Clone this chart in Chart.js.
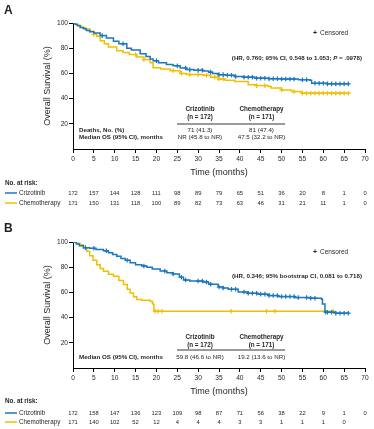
<!DOCTYPE html>
<html><head><meta charset="utf-8">
<script src="https://cdn.jsdelivr.net/npm/chart.js@4.4.1/dist/chart.umd.min.js"></script>
<style>
html,body{margin:0;padding:0;background:#fff;}
#wrap{position:relative;width:374px;height:429px;}
canvas{position:absolute;left:0;}
</style></head><body>
<div id="wrap">
<canvas id="cA" width="374" height="214" style="top:0"></canvas>
<canvas id="cB" width="374" height="215" style="top:214px"></canvas>
</div>
<script>
// ---------- DATA ----------
const riskTimes = [0,5,10,15,20,25,30,35,40,45,50,55,60,65,70];
const riskA_criz  = [172,157,144,128,111,98,89,79,65,51,36,20,8,1,0];
const riskA_chemo = [171,150,131,118,100,89,82,73,63,46,31,21,11,1,0];
const riskB_criz  = [172,158,147,136,123,109,98,87,71,56,38,22,9,1,0];
const riskB_chemo = [171,140,102,52,12,4,4,4,3,3,1,1,1,0];

// Panel A Kaplan-Meier steps (time in months, survival %)
const kmA_criz_t  = [0,0.5,1,1.7,2.5,3.2,4,5,6.5,8,9.7,11,12.9,14,16.1,17.5,18.5,19.2,20.5,22.4,24,25.7,27.2,29,31.2,32.5,33.5,34.8,36.5,38.8,41,43.6,47,50,54,56.8,57.2,61,66];
const kmA_criz_s  = [100,99,98,96.5,95.5,94,93,92,90,88,85.5,83.5,80,78.5,75.5,73.5,71.5,70,68.5,67,66,64.3,63,62.5,62,61,60,59,58.5,57.5,57,56.2,55.8,55.5,55,54.6,52.2,51.7,51.7];
const kmA_chemo_t = [0,0.5,1.2,2,3,4.1,5,5.7,6.5,7.5,8.5,10.5,12,13.5,15.3,17,18.5,19.2,21,23.3,25.7,27.2,31.2,33,34.8,36.5,38.8,42,44,46.8,47.5,50,52.4,54.8,66];
const kmA_chemo_s = [100,98.8,97.7,96.5,95.3,93.5,91,89.5,86,83.5,81,78,76.5,75,73,71,68.5,64.5,63.5,62.2,60,59.1,58.5,57,55.5,54.5,53.5,51,50.3,49.6,48.5,46.9,45.6,44.3,44.3];
const censA_criz  = [7,12,20,25,27,28,30,31,33,35,36,37,38,39,41,42,43,44,45,46,47,48,49,50,51,52,53,55,56,58,59,60,61,62,63,64,65,66];
const censA_chemo = [5,15,17,24,26,28,30,32,34,35,36,44,46,50,53,55,56,57,58,59,60,61,62,63,64,65,66];

// Panel B Kaplan-Meier steps
const kmB_criz_t  = [0,0.8,1.5,2.5,4,5.5,7.3,8.5,9.5,10.5,11.5,12.5,13.7,15,16.5,17.7,19,20.9,22.5,24,25.5,26.5,28,31.2,32.5,34.8,36,37.2,39.6,42,44.4,47,49.2,53.2,56.8,59.6,59.8,60.4,63,66];
const kmB_criz_s  = [100,98.5,97,95.5,95,94,93,91.5,90,88.7,87,85.5,83.5,82,81,80,78.5,77,75.5,74.6,72,69.8,69,68.3,66.5,64.3,63.5,62.5,60.3,59.3,58.6,57.5,56.7,55.9,55.4,54.6,50.7,44.3,43.5,43.5];
const kmB_chemo_t = [0,0.8,1.7,2.5,3.3,4,4.8,5.7,6.5,7.3,8.5,9.7,11,12.1,13,13.7,14.5,15.3,16.5,18.5,19,19.2,19.4,62.6];
const kmB_chemo_s = [100,99,97.8,95.5,92.6,89,85.5,82,79,76.8,74.5,72.8,69.5,66.2,62.5,59.6,56.5,54.3,53.8,53,51.5,50.3,45,45];
const censB_criz  = [3,5,8,13,17,22,24,26,27,30,31,32,33,35,36,38,39,41,42,43,44,45,46,47,48,49,50,51,52,53,54,56,57,58,60.6,61,62,63,64,65,66];
const censB_chemo = [19.7,20.4,21.3,37.9,46.4,48.4,62.4];

// ---------- DRAWING ----------
const FAM = '"Liberation Sans", Arial, Helvetica, sans-serif';
const BLUE = '#1b77c0';
const GOLD = '#f2bf00';
const INK = '#231f20';

function pts(t, s){ return t.map((x,i)=>({x:x, y:s[i]})); }
function survAt(t, s, time){ let v = s[0]; for (let i=0;i<t.length;i++){ if (t[i] <= time) v = s[i]; } return v; }
function censPts(c, t, s){ return c.map(x=>({x:x, y:survAt(t,s,x)})); }

function drawRich(ctx, parts, rightX, y, size){
  let w = 0;
  parts.forEach(p=>{ ctx.font = (p.it?'italic ':'') + 'bold ' + size + 'px ' + FAM; p.w = ctx.measureText(p.t).width; w += p.w; });
  let x = rightX - w;
  ctx.textAlign = 'left';
  parts.forEach(p=>{ ctx.font = (p.it?'italic ':'') + 'bold ' + size + 'px ' + FAM; ctx.fillText(p.t, x, y); x += p.w; });
}

const textPlugin = {
  id: 'panelText',
  afterDraw(chart, args, o){
    const ctx = chart.ctx; const xs = chart.scales.x;
    ctx.save();
    ctx.fillStyle = INK; ctx.textBaseline = 'middle';
    // panel letter
    ctx.font = 'bold 12px ' + FAM; ctx.textAlign = 'left';
    ctx.fillText(o.letter, 4, o.letterY);
    // censored key
    ctx.font = 'bold 7px ' + FAM; ctx.textAlign = 'center';
    ctx.fillText('+', 315, o.censY);
    ctx.font = '6.5px ' + FAM; ctx.textAlign = 'left';
    ctx.fillText('Censored', 320, o.censY);
    // HR text
    drawRich(ctx, o.hr, 362, o.hrY, 6.2);
    // stats table
    ctx.font = 'bold 6.3px ' + FAM; ctx.textAlign = 'center';
    ctx.fillText('Crizotinib', 200, o.headY);
    ctx.fillText('(n = 172)', 200, o.headY + 8);
    ctx.fillText('Chemotherapy', 261.5, o.headY);
    ctx.fillText('(n = 171)', 261.5, o.headY + 8);
    ctx.strokeStyle = INK; ctx.lineWidth = 0.9;
    ctx.beginPath(); ctx.moveTo(177, o.ruleY); ctx.lineTo(285, o.ruleY); ctx.stroke();
    o.rows.forEach((r, i)=>{
      const y = o.rowY + i*7;
      ctx.font = 'bold 6.2px ' + FAM; ctx.textAlign = 'left';
      ctx.fillText(r[0], 79, y);
      ctx.font = '6.2px ' + FAM; ctx.textAlign = 'center';
      ctx.fillText(r[1], 200, y);
      ctx.fillText(r[2], 261.5, y);
    });
    // number at risk
    ctx.font = 'bold 6.3px ' + FAM; ctx.textAlign = 'left';
    ctx.fillText('No. at risk:', 5, o.riskY[0]);
    const rows = [['Crizotinib', BLUE, o.risk[0]], ['Chemotherapy', GOLD, o.risk[1]]];
    rows.forEach((r, i)=>{
      const y = o.riskY[i+1];
      ctx.strokeStyle = r[1]; ctx.lineWidth = 1.5;
      ctx.beginPath(); ctx.moveTo(5, y); ctx.lineTo(17, y); ctx.stroke();
      ctx.font = '6.3px ' + FAM; ctx.textAlign = 'left';
      ctx.fillText(r[0], 19, y);
      ctx.font = '5.8px ' + FAM; ctx.textAlign = 'center';
      r[2].forEach((v, j)=>{ ctx.fillText(String(v), xs.getPixelForValue(riskTimes[j]), y); });
    });
    ctx.restore();
  }
};

function makeChart(id, km, pad, txt){
  const lineDs = (data, col) => ({data, borderColor: col, borderWidth: 1.5, stepped: true, pointRadius: 0, fill: false, tension: 0});
  const censDs = (data, col) => ({data, showLine: false, borderColor: col, backgroundColor: col, pointStyle: 'cross', pointRadius: 2.3, pointBorderWidth: 1.2});
  const tickFont = {size: 6.6, family: FAM};
  const grid = {drawOnChartArea: false, drawTicks: true, tickLength: 4, color: '#000', tickColor: '#000', tickWidth: 1};
  return new Chart(document.getElementById(id), {
    type: 'line',
    data: { datasets: [
      lineDs(pts(km.ct, km.cs), BLUE),
      censDs(censPts(km.cc, km.ct, km.cs), BLUE),
      lineDs(pts(km.ht, km.hs), GOLD),
      censDs(censPts(km.hc, km.ht, km.hs), GOLD)
    ]},
    options: {
      responsive: false, animation: false, devicePixelRatio: 1,
      layout: {padding: pad},
      plugins: {legend: {display: false}, tooltip: {enabled: false}, panelText: txt},
      scales: {
        x: {type: 'linear', min: 0, max: 70,
            ticks: {stepSize: 5, font: tickFont, color: INK, padding: 2, maxRotation: 0, autoSkip: false},
            grid: grid, border: {display: true, color: '#000', width: 1},
            title: {display: true, text: 'Time (months)', font: {size: 9, family: FAM}, color: INK, padding: 0},
            afterFit: s => { s.height = 29; }},
        y: {min: 0, max: 100,
            ticks: {stepSize: 20, font: tickFont, color: INK, padding: 1, callback: v => v === 0 ? null : v},
            grid: grid, border: {display: true, color: '#000', width: 1},
            title: {display: true, text: 'Overall Survival (%)', font: {size: 9, family: FAM}, color: INK, padding: {top: 4, bottom: 0}},
            afterFit: s => { s.width = 35; }}
      }
    },
    plugins: [textPlugin]
  });
}

makeChart('cA',
  {ct: kmA_criz_t, cs: kmA_criz_s, cc: censA_criz, ht: kmA_chemo_t, hs: kmA_chemo_s, hc: censA_chemo},
  {left: 38, right: 9, top: 23, bottom: 36},
  {letter: 'A', letterY: 11, censY: 33,
   hr: [{t: '(HR, 0.760; 95% CI, 0.548 to 1.053; '}, {t: 'P', it: true}, {t: ' = .0978)'}], hrY: 58,
   headY: 109, ruleY: 124, rowY: 130,
   rows: [['Deaths, No. (%)', '71 (41.3)', '81 (47.4)'], ['Median OS (95% CI), months', 'NR (45.8 to NR)', '47.5 (32.2 to NR)']],
   riskY: [183, 193, 203], risk: [riskA_criz, riskA_chemo]});

makeChart('cB',
  {ct: kmB_criz_t, cs: kmB_criz_s, cc: censB_criz, ht: kmB_chemo_t, hs: kmB_chemo_s, hc: censB_chemo},
  {left: 38, right: 9, top: 28, bottom: 32},
  {letter: 'B', letterY: 14.5, censY: 38,
   hr: [{t: '(HR, 0.346; 95% bootstrap CI, 0.081 to 0.718)'}], hrY: 62.7,
   headY: 123, ruleY: 136, rowY: 143,
   rows: [['Median OS (95% CI), months', '59.8 (46.6 to NR)', '19.2 (13.6 to NR)']],
   riskY: [187, 199, 208], risk: [riskB_criz, riskB_chemo]});
</script>
</body></html>
